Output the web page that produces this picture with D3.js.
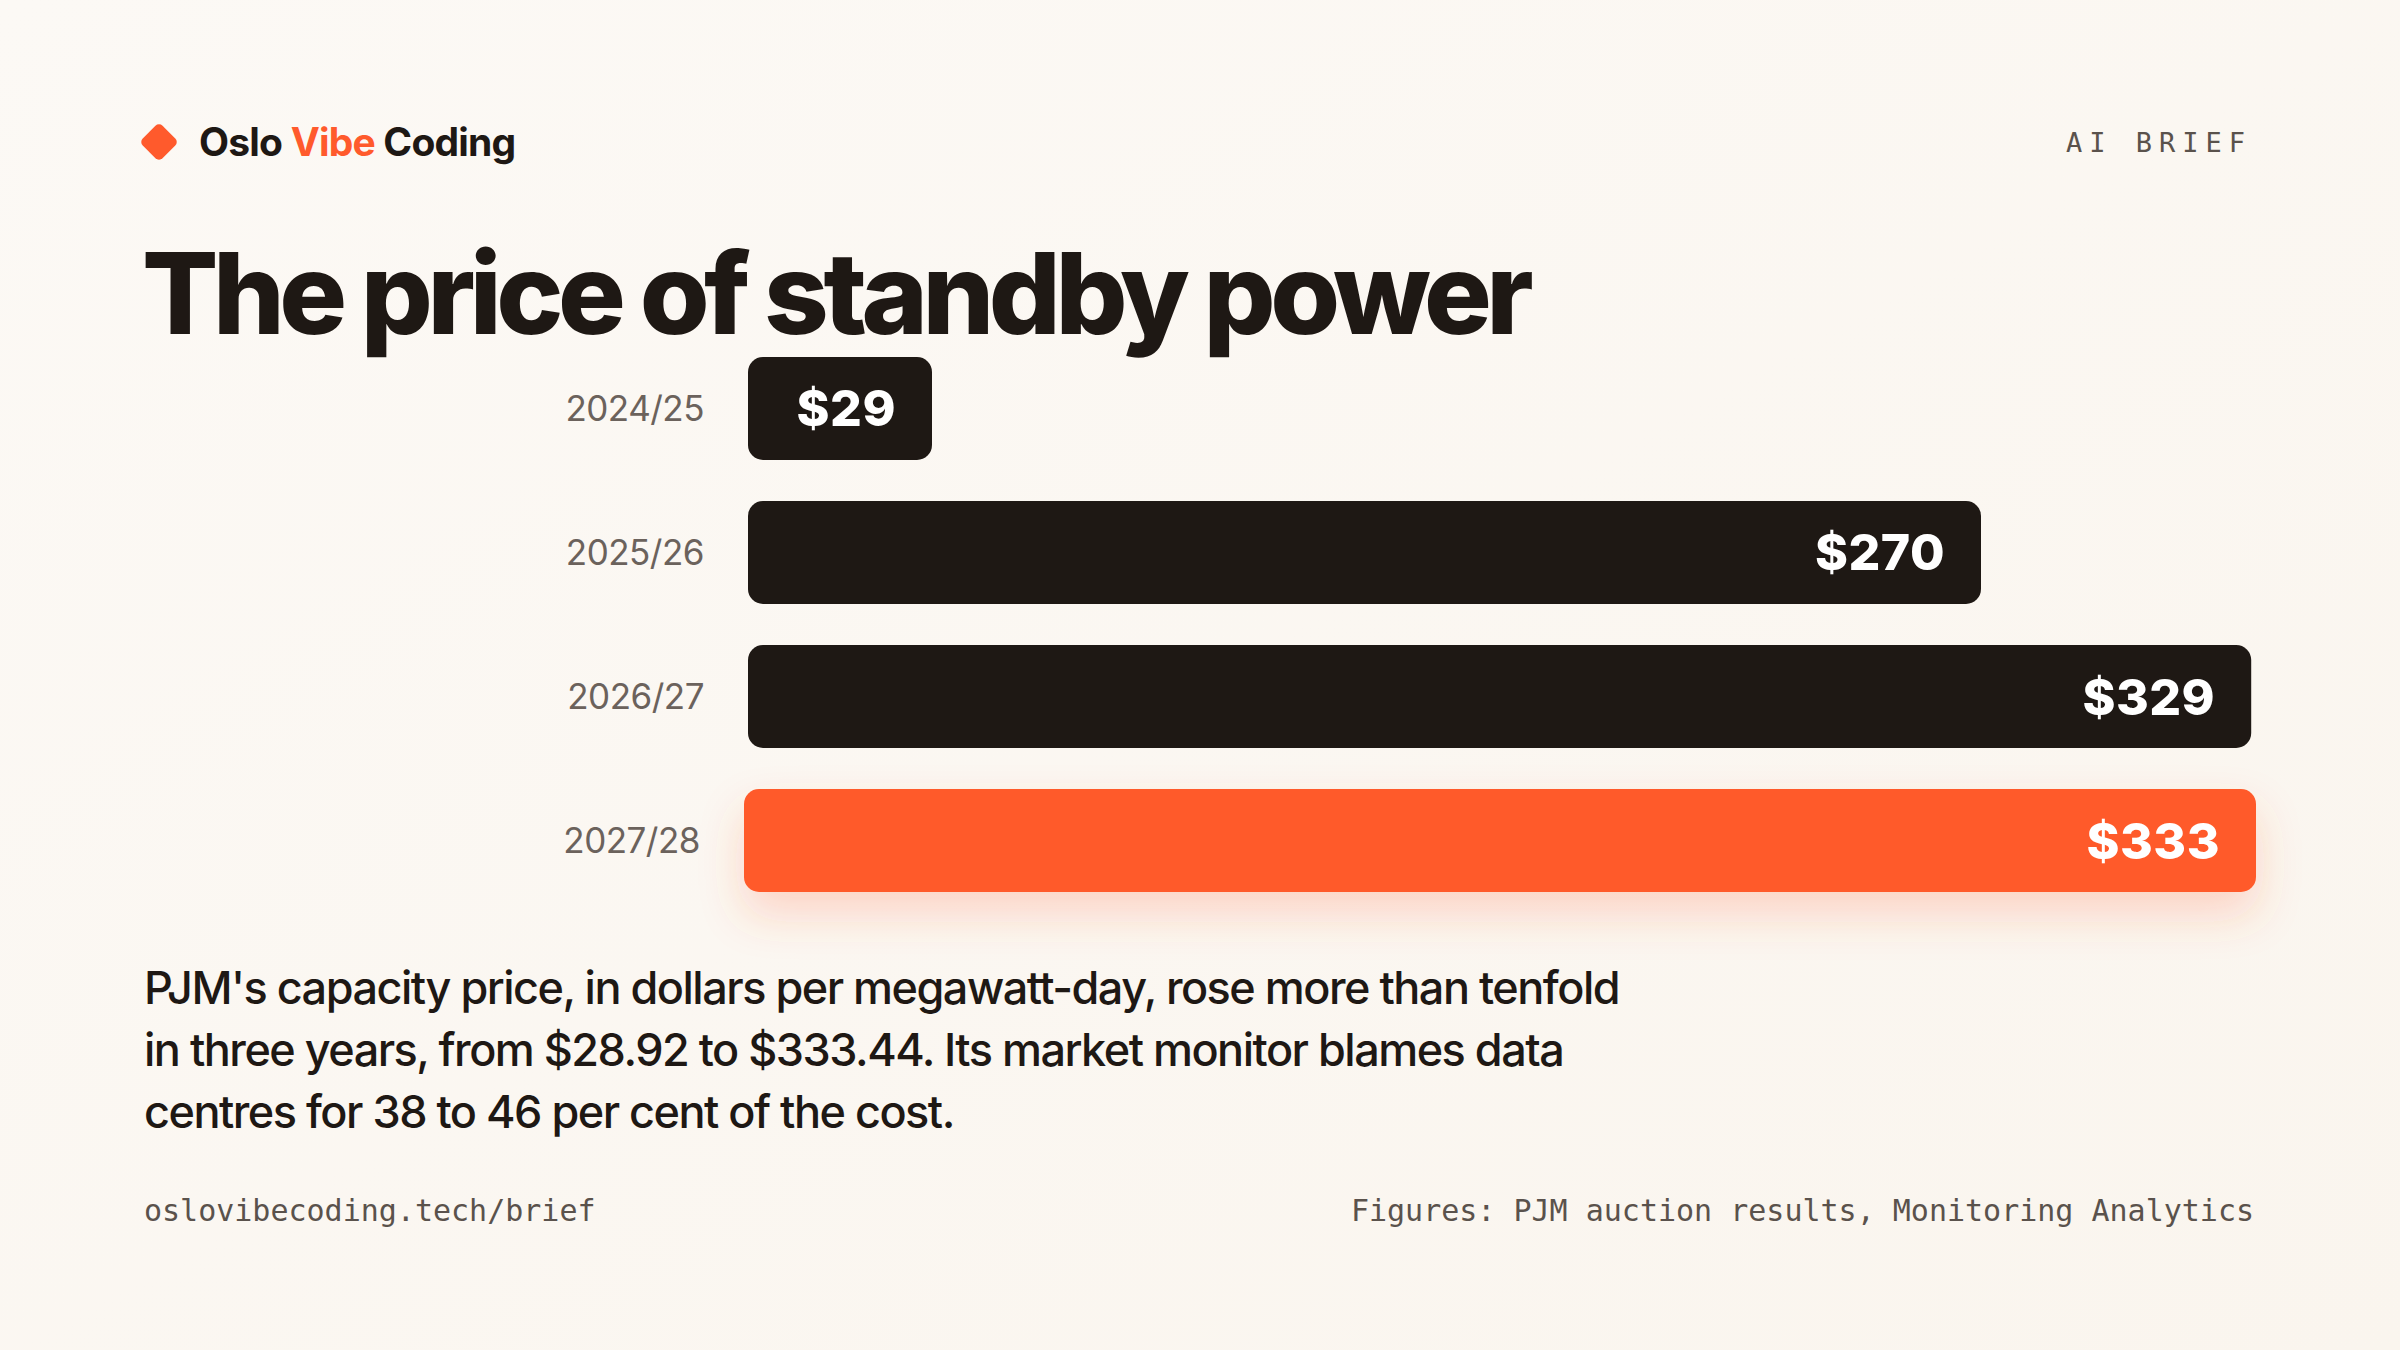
<!DOCTYPE html>
<html><head><meta charset="utf-8">
<script src="https://cdn.jsdelivr.net/npm/d3@7"></script>
<style>html,body{margin:0;padding:0;background:#fbf7f1;}svg{display:block;}</style>
</head><body>
<script>
const categories = ["2024/25","2025/26","2026/27","2027/28"];
const values = [28.92, 270.0, 329.17, 333.44];
const valueLabels = ["$29","$270","$329","$333"];
const highlightIndex = 3;

const W=2400,H=1350;
const svg=d3.select("body").append("svg").attr("width",W).attr("height",H);
const defs=svg.append("defs");
const bg=defs.append("linearGradient").attr("id","bg").attr("x1",0).attr("y1",0).attr("x2",1).attr("y2",1);
bg.append("stop").attr("offset","0").attr("stop-color","#fcf9f5");
bg.append("stop").attr("offset","1").attr("stop-color","#faf5ee");
svg.append("rect").attr("width",W).attr("height",H).attr("fill","url(#bg)");
const f=defs.append("filter").attr("id","glow").attr("x","-10%").attr("y","-50%").attr("width","120%").attr("height","250%");
f.append("feGaussianBlur").attr("in","SourceAlpha").attr("stdDeviation",22).attr("result","b");
f.append("feOffset").attr("in","b").attr("dy",22).attr("result","o");
f.append("feFlood").attr("flood-color","#ff5a2c").attr("flood-opacity",0.22);
f.append("feComposite").attr("in2","o").attr("operator","in").attr("result","s");
const m=f.append("feMerge");m.append("feMergeNode").attr("in","s");m.append("feMergeNode").attr("in","SourceGraphic");

const sans="Inter, 'Noto Sans', sans-serif", mono="'DejaVu Sans Mono', monospace";
const dark="#1e1814", orange="#ff5a2c";

// header
svg.append("rect").attr("x",-14).attr("y",-14).attr("width",28).attr("height",28).attr("rx",5)
  .attr("fill",orange).attr("transform","translate(159,142) rotate(45)");
const logo=svg.append("text").attr("x",199).attr("y",156).attr("font-family",sans).attr("font-weight",700)
  .attr("font-size",39).attr("letter-spacing",-0.8).attr("fill",dark);
logo.append("tspan").text("Oslo ");
logo.append("tspan").attr("fill",orange).text("Vibe");
logo.append("tspan").text(" Coding");
svg.append("text").attr("x",2252).attr("y",152).attr("text-anchor","end").attr("font-family",mono)
  .attr("font-size",27).attr("letter-spacing",7).attr("fill","#5a524c").text("AI BRIEF");

svg.append("text").attr("x",142).attr("y",334).attr("font-family",sans).attr("font-weight",800)
  .attr("font-size",113).attr("letter-spacing",-5.5).attr("fill",dark).text("The price of standby power");

// bars
const x=d3.scaleLinear().domain([0,330]).range([748,2255]).clamp(true);
const y=d3.scaleBand().domain(categories).range([357,892]).paddingInner(0.285).paddingOuter(0);
const minW=184;
const g=svg.append("g");
categories.forEach((c,i)=>{
  const hi=i===highlightIndex;
  const x0=x(0)-(hi?4:0);
  const x1=Math.max(x(values[i]),x(0)+minW)+(hi?1:0);
  const yy=y(c);
  g.append("rect").attr("x",x0).attr("y",yy).attr("width",x1-x0).attr("height",y.bandwidth())
   .attr("rx",15).attr("fill",hi?orange:dark).attr("filter",hi?"url(#glow)":null);
  g.append("text").attr("x",x0-44).attr("y",yy+y.bandwidth()/2).attr("dy","0.36em").attr("text-anchor","end")
   .attr("font-family",sans).attr("font-size",35).attr("fill","#6b625c").attr("letter-spacing",-0.5).text(c);
  g.append("text").attr("x",x1-36).attr("y",yy+y.bandwidth()/2).attr("dy","0.36em").attr("text-anchor","end")
   .attr("font-family",sans).attr("font-weight",800).attr("font-size",50).attr("letter-spacing",0.5)
   .attr("fill","#ffffff").text(valueLabels[i]);
});

// paragraph
const lines=["PJM's capacity price, in dollars per megawatt-day, rose more than tenfold",
 "in three years, from $28.92 to $333.44. Its market monitor blames data",
 "centres for 38 to 46 per cent of the cost."];
svg.append("g").selectAll("text").data(lines).join("text")
  .attr("x",144).attr("y",(d,i)=>1004+i*62).attr("font-family",sans).attr("font-weight",500)
  .attr("font-size",45).attr("letter-spacing",-1.5).attr("fill",dark).text(d=>d);

svg.append("text").attr("x",144).attr("y",1221).attr("font-family",mono).attr("font-size",30)
  .attr("fill","#5a524c").text("oslovibecoding.tech/brief");
svg.append("text").attr("x",2254).attr("y",1221).attr("text-anchor","end").attr("font-family",mono).attr("font-size",30)
  .attr("fill","#5a524c").text("Figures: PJM auction results, Monitoring Analytics");
</script>
</body></html>
